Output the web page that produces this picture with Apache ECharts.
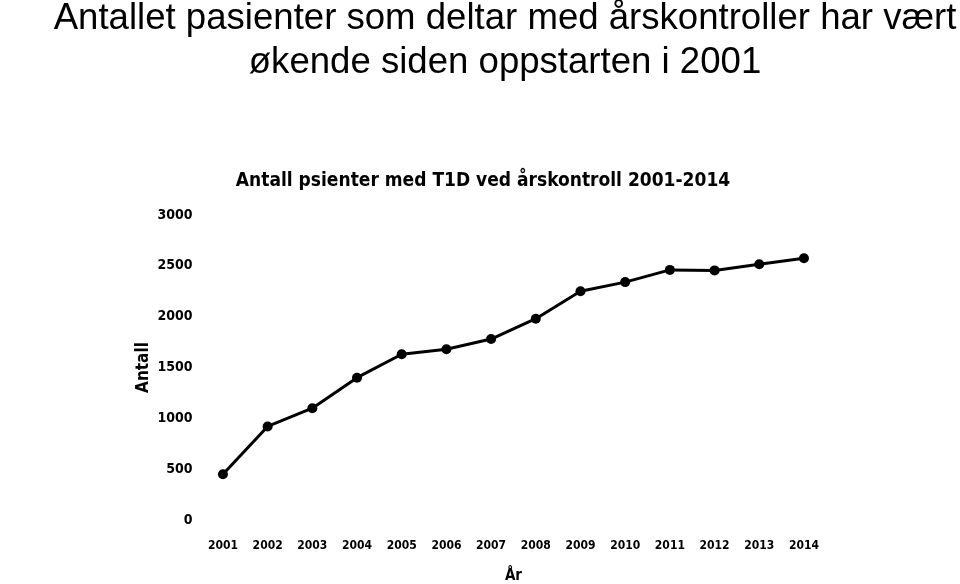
<!DOCTYPE html>
<html>
<head>
<meta charset="utf-8">
<script src="https://cdn.jsdelivr.net/npm/echarts@6/dist/echarts.min.js"></script>
<style>
  html, body { margin: 0; padding: 0; background: #fff; }
  #main { width: 960px; height: 584px; }
</style>
</head>
<body>
<div id="main"></div>
<script>
  // data
  var years = ['2001', '2002', '2003', '2004', '2005', '2006', '2007',
    '2008', '2009', '2010', '2011', '2012', '2013', '2014']
  var antall = [450, 920, 1100, 1400, 1630, 1680, 1780,
    1980, 2250, 2340, 2460, 2455, 2515, 2575]
  var yTicks = [0, 500, 1000, 1500, 2000, 2500, 3000]

  var narrow = '"Liberation Sans Narrow", "DejaVu Sans Condensed", "Open Sans", sans-serif'

  var chart = echarts.init(document.getElementById('main'))
  var option = {
    backgroundColor: '#fff',
    animation: false,
    title: [
      {
        text: 'Antallet pasienter som deltar med årskontroller har vært\nøkende siden oppstarten i 2001',
        left: 500,
        top: -8,
        textAlign: 'center',
        textStyle: {
          fontFamily: '"Liberation Sans", Arial, sans-serif',
          fontWeight: 'normal',
          fontSize: 36.6,
          lineHeight: 44,
          color: '#000'
        }
      },
      {
        text: 'Antall psienter med T1D ved årskontroll 2001-2014',
        left: 478,
        top: 167,
        textAlign: 'center',
        textStyle: {
          fontFamily: narrow,
          fontWeight: 'bold',
          fontSize: 19,
          color: '#000'
        }
      }
    ],
    grid: {
      left: 200.6,
      right: 133.7,
      top: 215,
      bottom: 64,
      outerBoundsMode: 'none'
    },
    xAxis: {
      type: 'category',
      data: years,
      boundaryGap: true,
      name: 'År',
      nameLocation: 'middle',
      nameGap: 49,
      nameMoveOverlap: false,
      nameTextStyle: {
        fontFamily: narrow,
        fontWeight: 'bold',
        fontSize: 15,
        color: '#000'
      },
      axisLine: { show: false },
      axisTick: { show: false },
      axisLabel: {
        margin: 20,
        interval: 0,
        fontFamily: narrow,
        fontWeight: 'bold',
        fontSize: 12,
        color: '#000'
      },
      splitLine: { show: false }
    },
    yAxis: {
      type: 'value',
      min: yTicks[0],
      max: yTicks[yTicks.length - 1],
      interval: 500,
      name: 'Antall',
      nameLocation: 'middle',
      nameGap: 49,
      nameMoveOverlap: false,
      nameTextStyle: {
        fontFamily: narrow,
        fontWeight: 'bold',
        fontSize: 17,
        color: '#000'
      },
      axisLine: { show: false },
      axisTick: { show: false },
      axisLabel: {
        margin: 8,
        fontFamily: narrow,
        fontWeight: 'bold',
        fontSize: 14,
        color: '#000',
        formatter: function (v) { return String(v) }
      },
      splitLine: { show: false }
    },
    series: [
      {
        type: 'line',
        data: antall,
        symbol: 'circle',
        symbolSize: 10,
        lineStyle: { color: '#000', width: 3 },
        itemStyle: { color: '#000' }
      }
    ]
  }
  chart.setOption(option)
</script>
</body>
</html>
